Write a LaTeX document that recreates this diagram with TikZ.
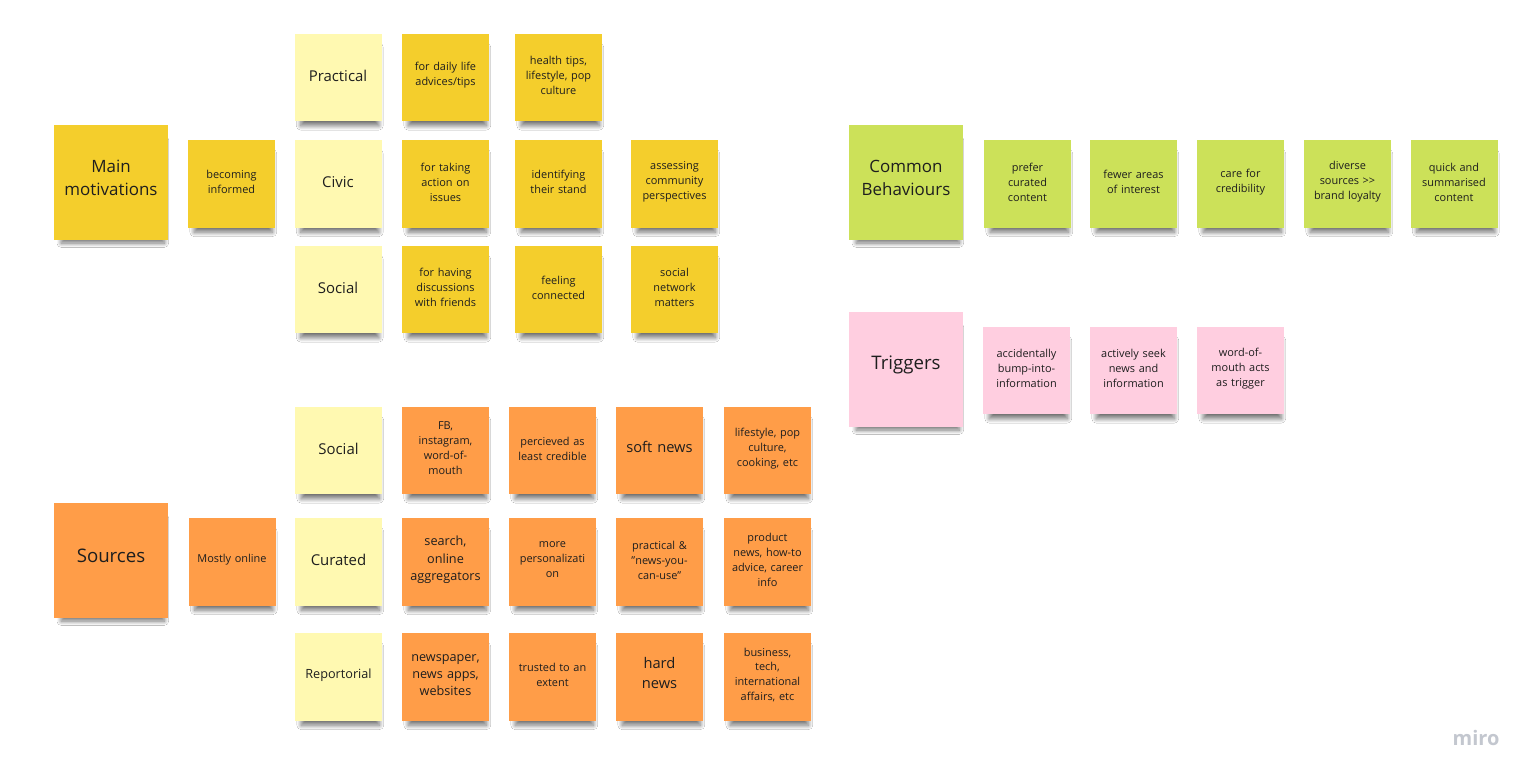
\documentclass[tikz,border=0pt]{standalone}
\usepackage{fontspec}
\setmainfont{Open Sans}
\usetikzlibrary{shadows.blur}
\definecolor{yel}{HTML}{F4CE2C}
\definecolor{lyel}{HTML}{FFF9B1}
\definecolor{ora}{HTML}{FF9D48}
\definecolor{grn}{HTML}{CCE159}
\definecolor{pnk}{HTML}{FFCEE0}
\definecolor{txt}{HTML}{1E1E1E}
\definecolor{logo}{HTML}{C3C7CF}
\tikzset{
  shad/.style={blur shadow={shadow xshift=1.5pt, shadow yshift=-7.5pt, shadow scale=0.9, shadow opacity=55, shadow blur radius=3.5pt, shadow blur steps=20}},
  note/.style={shad, minimum width=65.25pt, minimum height=65.5pt, text width=60pt, align=center, inner sep=0pt, text=txt, font=\fontsize{8.2}{11.2}\selectfont, execute at end node={\par\vspace{3pt}}},
  bignote/.style={shad, minimum width=86pt, minimum height=86pt, text width=80pt, align=center, inner sep=0pt, text=txt, font=\fontsize{12.7}{17}\selectfont, execute at end node={\par\vspace{6.5pt}}},
  lbl/.style={note, fill=lyel, font=\fontsize{11.2}{14}\selectfont},
  yn/.style={note, fill=yel},
  on/.style={note, fill=ora},
  gn/.style={note, fill=grn},
  pn/.style={note, fill=pnk},
  mid/.style={font=\fontsize{9.5}{13}\selectfont},
  midbig/.style={font=\fontsize{11}{15.5}\selectfont, execute at end node={\par\vspace{3pt}}},
}
\begin{document}
\begin{tikzpicture}[x=0.75pt, y=-0.75pt]
\useasboundingbox[fill=white] (0,0) rectangle (1536,781);
% Main motivations
\node[bignote, fill=yel] (mm) at (111,182.5) {Main\\motivations};
\node[yn] (bi) at (231.5,184) {becoming\\informed};
\node[lbl] (pr) at (338,77.5) {Practical};
\node[lbl] (ci) at (338,184) {Civic};
\node[lbl] (so) at (338,289.5) {Social};
\node[yn] (pr1) at (445.5,77.5) {for daily life\\advices/tips};
\node[yn] (pr2) at (558.5,77.5) {health tips,\\lifestyle, pop\\culture};
\node[yn] (ci1) at (445.5,184) {for taking\\action on\\issues};
\node[yn] (ci2) at (558.5,184) {identifying\\their stand};
\node[yn] (ci3) at (674.5,184) {assessing\\community\\perspectives};
\node[yn] (so1) at (445.5,289.5) {for having\\discussions\\with friends};
\node[yn] (so2) at (558.5,289.5) {feeling\\connected};
\node[yn] (so3) at (674.5,289.5) {social\\network\\matters};
% Sources
\node[bignote, fill=ora, font=\fontsize{14}{18}\selectfont] (src) at (111,560.5) {Sources};
\node[on] (mo) at (232,562) {Mostly online};
\node[lbl] (ss) at (338.5,450.5) {Social};
\node[lbl] (cu) at (338.5,562) {Curated};
\node[lbl, mid] (re) at (338.5,677) {Reportorial};
\node[on] (ss1) at (445.5,450.5) {FB,\\instagram,\\word-of-\\mouth};
\node[on] (ss2) at (552.5,450.5) {percieved as\\least credible};
\node[on, midbig] (ss3) at (659.5,450.5) {soft news};
\node[on] (ss4) at (767.5,450.5) {lifestyle, pop\\culture,\\cooking, etc};
\node[on, mid] (cu1) at (445.5,562) {search,\\online\\aggregators};
\node[on] (cu2) at (552.5,562) {more\\personalizati\\on};
\node[on] (cu3) at (659.5,562) {practical \&\\\symbol{34}news-you-\\can-use\symbol{34}};
\node[on] (cu4) at (767.5,562) {product\\news, how-to\\advice, career\\info};
\node[on, mid] (re1) at (445.5,677) {newspaper,\\news apps,\\websites};
\node[on] (re2) at (552.5,677) {trusted to an\\extent};
\node[on, midbig] (re3) at (659.5,677) {hard\\news};
\node[on] (re4) at (767.5,677) {business,\\tech,\\international\\affairs, etc};
% Common behaviours
\node[bignote, fill=grn] (cb) at (906,182.5) {Common\\Behaviours};
\node[gn] (cb1) at (1027.5,184) {prefer\\curated\\content};
\node[gn] (cb2) at (1133.5,184) {fewer areas\\of interest};
\node[gn] (cb3) at (1240.5,184) {care for\\credibility};
\node[gn] (cb4) at (1347.5,184) {diverse\\sources >\kern0pt>\\brand loyalty};
\node[gn] (cb5) at (1454,184) {quick and\\summarised\\content};
% Triggers
\node[bignote, fill=pnk, font=\fontsize{14}{18}\selectfont] (tr) at (906,369.5) {Triggers};
\node[pn] (tr1) at (1026.5,370.5) {accidentally\\bump-into-\\information};
\node[pn] (tr2) at (1133.5,370.5) {actively seek\\news and\\information};
\node[pn] (tr3) at (1240.5,370.5) {word-of-\\mouth acts\\as trigger};
% logo
\node[text=logo, font=\fontsize{15}{15}\bfseries\selectfont, inner sep=0pt] (miro) at (1476,738) {miro};
\end{tikzpicture}
\end{document}
